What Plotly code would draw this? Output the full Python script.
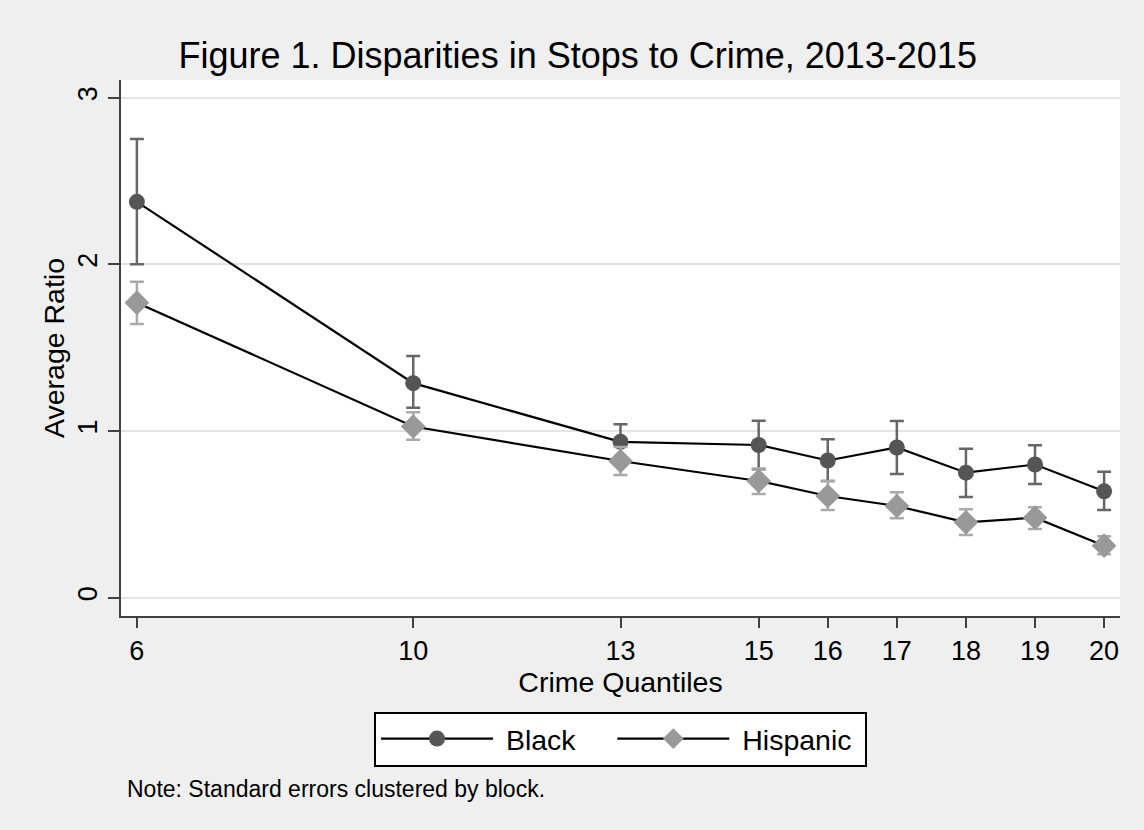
import plotly.graph_objects as go

quantiles = [6, 10, 13, 15, 16, 17, 18, 19, 20]
black = [2.375, 1.287, 0.935, 0.916, 0.823, 0.901, 0.750, 0.799, 0.638]
black_hi = [2.752, 1.450, 1.040, 1.062, 0.950, 1.060, 0.894, 0.914, 0.756]
black_lo = [2.000, 1.140, 0.830, 0.770, 0.700, 0.742, 0.604, 0.682, 0.526]
hisp = [1.770, 1.027, 0.820, 0.700, 0.610, 0.550, 0.452, 0.480, 0.312]
hisp_hi = [1.896, 1.112, 0.904, 0.775, 0.700, 0.632, 0.530, 0.542, 0.368]
hisp_lo = [1.642, 0.948, 0.736, 0.622, 0.526, 0.476, 0.376, 0.412, 0.260]
y_ticks = [0, 1, 2, 3]

FONT = "Liberation Sans, Arial, sans-serif"
BG = "#efefef"
NB = "\u00a0"

def err(y, lo, hi):
    return dict(type="data", symmetric=False,
                array=[h - v for v, h in zip(y, hi)],
                arrayminus=[v - l for v, l in zip(y, lo)])

fig = go.Figure()
fig.add_trace(go.Scatter(
    x=quantiles, y=black, name=NB + "Black" + NB * 4, mode="lines+markers",
    line=dict(color="black", width=2.2),
    marker=dict(symbol="circle", size=16, color="#555555"),
    error_y=dict(**err(black, black_lo, black_hi), color="#666666", thickness=2.5, width=7),
))
fig.add_trace(go.Scatter(
    x=quantiles, y=hisp, name=NB + "Hispanic" + NB, mode="lines+markers",
    line=dict(color="black", width=2.2),
    marker=dict(symbol="diamond", size=19, color="#999999"),
    error_y=dict(**err(hisp, hisp_lo, hisp_hi), color="#aaaaaa", thickness=2.5, width=7),
))

fig.update_layout(
    width=1144, height=830,
    margin=dict(l=121, r=24, t=80, b=214),
    paper_bgcolor=BG, plot_bgcolor="white",
    font=dict(family=FONT, color="black"),
    title=dict(text="Figure 1. Disparities in Stops to Crime, 2013-2015",
               x=0.505, xanchor="center", y=1 - 55 / 830, yanchor="middle",
               yref="container", font=dict(size=36, color="black")),
    xaxis=dict(range=[5.77, 20.23], tickvals=quantiles, ticktext=[str(q) for q in quantiles],
               showgrid=False, zeroline=False, showline=True, linecolor="#404040", linewidth=2,
               ticks="outside", ticklen=10, tickwidth=2, tickcolor="#404040",
               tickfont=dict(size=27),
               title=dict(text="Crime Quantiles", font=dict(size=28.5), standoff=2)),
    yaxis=dict(range=[-0.11, 3.106], tickvals=y_ticks, tickangle=-90,
               showgrid=True, gridcolor="#e4e4e4", gridwidth=2, zeroline=False,
               showline=True, linecolor="#404040", linewidth=2,
               ticks="outside", ticklen=11, tickwidth=2, tickcolor="#404040",
               tickfont=dict(size=27),
               title=dict(text="Average Ratio", font=dict(size=28.5), standoff=0)),
    legend=dict(orientation="h", x=0.5, xanchor="center", y=-0.2295, yanchor="middle",
                bgcolor="white", bordercolor="black", borderwidth=2,
                font=dict(size=28.5), itemwidth=112),
    showlegend=True,
    annotations=[dict(text="Note: Standard errors clustered by block.", xref="paper", yref="paper",
                      x=0.004, y=-0.3228, xanchor="left", yanchor="middle", showarrow=False,
                      font=dict(size=23, color="black"))],
)

fig.write_html("out.html")
